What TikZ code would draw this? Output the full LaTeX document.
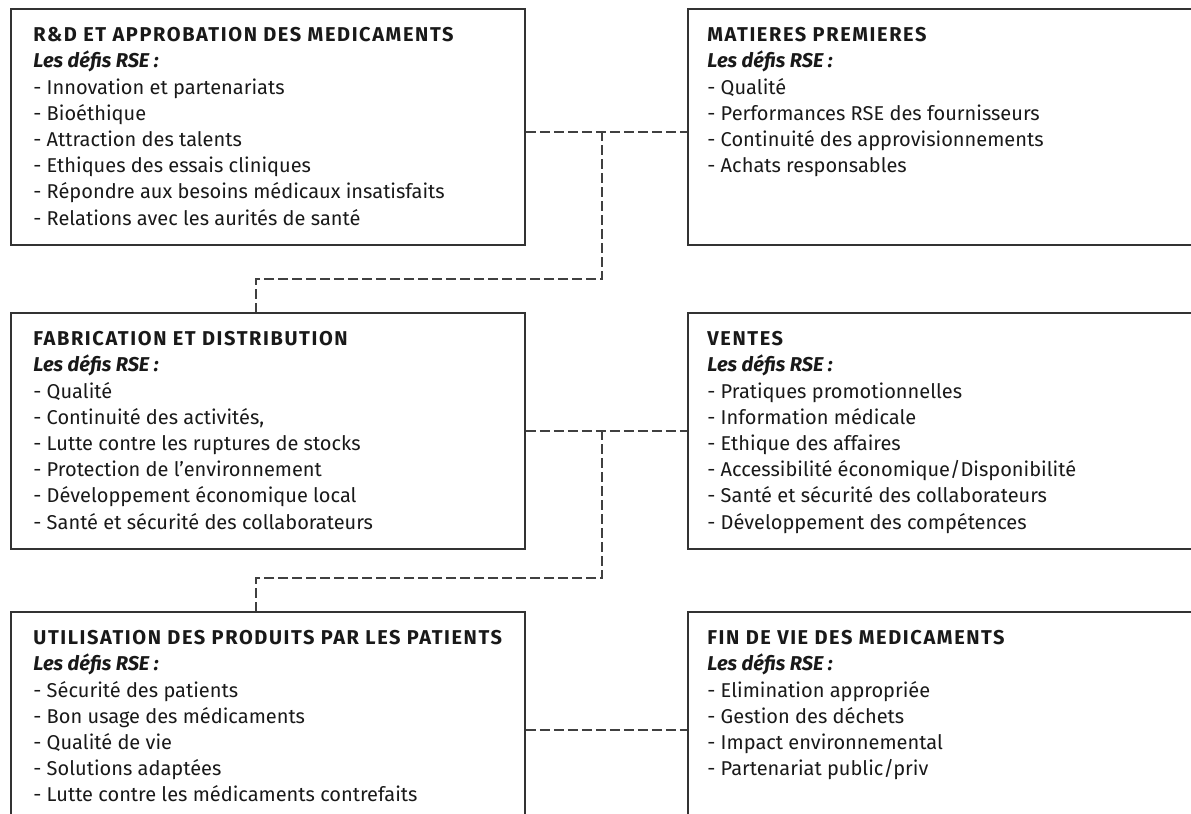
\documentclass[tikz,border=0pt]{standalone}
\usepackage{fontspec}
\setmainfont{Fira Sans}
\usetikzlibrary{calc}
\newcommand{\stagehead}[1]{{\bfseries\addfontfeature{LetterSpace=8}#1}}

\begin{document}
\begin{tikzpicture}[x=0.5pt,y=-0.5pt]
	\useasboundingbox (0,0) rectangle (1191,814);
	\clip (0,0) rectangle (1191,814);

	\begin{scope}[every node/.style={draw=black!80,line width=0.9pt,anchor=north west,inner sep=0pt,minimum height=118pt}]
		% stage boxes: left column
		\node[minimum width=257pt] (rd) at (10,8) {};
		\node[minimum width=257pt] (fab) at (10,312) {};
		\node[minimum width=257pt] (util) at (10,611) {};
		% stage boxes: right column (run off the page)
		\node[minimum width=300pt] (mp) at (687,8) {};
		\node[minimum width=300pt] (ventes) at (687,312) {};
		\node[minimum width=300pt] (fin) at (687,611) {};
	\end{scope}

	\begin{scope}[every node/.style={anchor=north west,align=left,inner sep=0pt,
				font=\fontsize{10}{13.1}\selectfont,text=black!90}]
		\node (rdt) at ([shift={(23,19)}]rd.north west) {\stagehead{R\&D ET APPROBATION DES MEDICAMENTS}\\
			\textbf{\textit{Les défis RSE :}}\\
			- Innovation et partenariats\\
			- Bioéthique\\
			- Attraction des talents\\
			- Ethiques des essais cliniques\\
			- Répondre aux besoins médicaux insatisfaits\\
			- Relations avec les aurités de santé};
		\node (fabt) at ([shift={(23,19)}]fab.north west) {\stagehead{FABRICATION ET DISTRIBUTION}\\
			\textbf{\textit{Les défis RSE :}}\\
			- Qualité\\
			- Continuité des activités,\\
			- Lutte contre les ruptures de stocks\\
			- Protection de l\char39 environnement\\
			- Développement économique local\\
			- Santé et sécurité des collaborateurs};
		\node (utilt) at ([shift={(23,19)}]util.north west) {\stagehead{UTILISATION DES PRODUITS PAR LES PATIENTS}\\
			\textbf{\textit{Les défis RSE :}}\\
			- Sécurité des patients\\
			- Bon usage des médicaments\\
			- Qualité de vie\\
			- Solutions adaptées\\
			- Lutte contre les médicaments contrefaits};
		\node (mpt) at ([shift={(20,19)}]mp.north west) {\stagehead{MATIERES PREMIERES}\\
			\textbf{\textit{Les défis RSE :}}\\
			- Qualité\\
			- Performances RSE des fournisseurs\\
			- Continuité des approvisionnements\\
			- Achats responsables};
		\node (ventest) at ([shift={(20,19)}]ventes.north west) {\stagehead{VENTES}\\
			\textbf{\textit{Les défis RSE :}}\\
			- Pratiques promotionnelles\\
			- Information médicale\\
			- Ethique des affaires\\
			- Accessibilité économique/Disponibilité\\
			- Santé et sécurité des collaborateurs\\
			- Développement des compétences};
		\node (fint) at ([shift={(20,19)}]fin.north west) {\stagehead{FIN DE VIE DES MEDICAMENTS}\\
			\textbf{\textit{Les défis RSE :}}\\
			- Elimination appropriée\\
			- Gestion des déchets\\
			- Impact environnemental\\
			- Partenariat public/priv};
	\end{scope}

	\begin{scope}[every path/.style={draw=black!75,line width=0.8pt,dash pattern=on 5pt off 2pt}]
		% bends between the rows
		\coordinate (j1) at (602,131);
		\coordinate (k1) at (256,279);
		\coordinate (j2) at (602,430);
		\coordinate (k2) at (256,578);

		\draw ([yshift=-2.5pt]rd.east) -- ([yshift=-2.5pt]mp.west);
		\draw (j1) |- (k1) -- (k1 |- fab.north);

		\draw (fab.east) -- (ventes.west);
		\draw (j2) |- (k2) -- (k2 |- util.north);

		\draw (util.east) -- (fin.west);
	\end{scope}
\end{tikzpicture}
\end{document}
